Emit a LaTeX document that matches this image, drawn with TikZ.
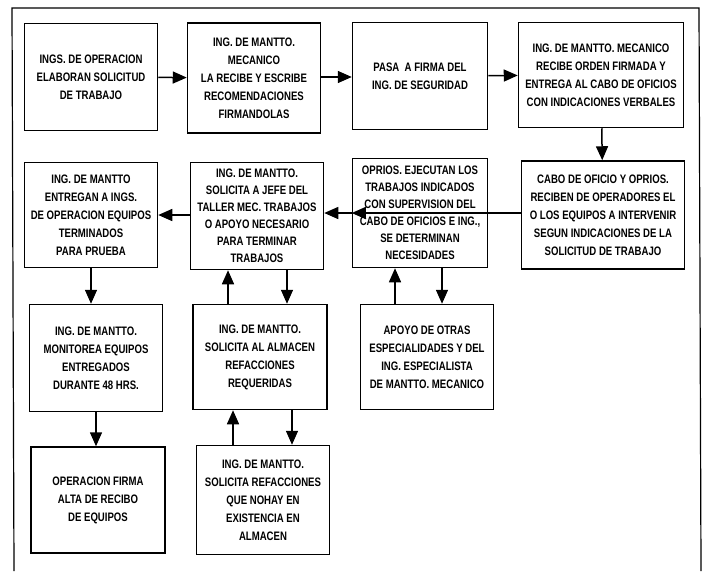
\documentclass[tikz,border=0pt]{standalone}
\usepackage{fontspec}
\setmainfont{Liberation Sans}[FakeStretch=0.78]
\usepackage{tikz}
\usetikzlibrary{arrows.meta}

\begin{document}
\begin{tikzpicture}
            [x=1pt,y=-1pt,
             box/.style={draw,line width=1.5pt,minimum width=133pt,minimum height=107pt,
                         align=center,inner sep=1pt,font=\bfseries\fontsize{12.3}{18}\selectfont},
             tight/.style={font=\bfseries\fontsize{12.3}{17}\selectfont},
             arr/.style={line width=1.5pt,-{Triangle[length=14pt,width=12pt]}}]
            \useasboundingbox (0,0) rectangle (708,571);
            \draw[line width=1.2pt] (14,571) -- (12,8) -- (699,8) -- (701,571);

            \node[box] (S1) at (91,77) {INGS. DE OPERACION\\ELABORAN SOLICITUD\\DE TRABAJO};
            \node[box,minimum height=110pt] (S2) at (254,78) {ING. DE MANTTO.\\MECANICO\\LA RECIBE Y ESCRIBE\\RECOMENDACIONES\\FIRMANDOLAS};
            \node[box,minimum width=135pt] (S3) at (420,76) {PASA \ A FIRMA DEL\\ING. DE SEGURIDAD};
            \node[box,minimum width=165pt,minimum height=105pt] (S4) at (601,75) {ING. DE MANTTO. MECANICO\\RECIBE ORDEN FIRMADA Y\\ENTREGA AL CABO DE OFICIOS\\CON INDICACIONES VERBALES};

            \node[box,minimum width=163pt,minimum height=108pt] (S5) at (603,215) {CABO DE OFICIO Y OPRIOS.\\RECIBEN DE OPERADORES EL\\O LOS EQUIPOS A INTERVENIR\\SEGUN INDICACIONES DE LA\\SOLICITUD DE TRABAJO};
            \node[box,tight,minimum width=135pt,minimum height=109pt] (S6) at (420,213) {OPRIOS. EJECUTAN LOS\\TRABAJOS INDICADOS\\CON SUPERVISION DEL\\CABO DE OFICIOS E ING.,\\SE DETERMINAN\\NECESIDADES};
            \node[box,tight] (S7) at (257,216) {ING. DE MANTTO.\\SOLICITA A JEFE DEL\\TALLER MEC. TRABAJOS\\O APOYO NECESARIO\\PARA TERMINAR\\TRABAJOS};
            \node[box,minimum height=105pt] (S8) at (91,215) {ING. DE MANTTO\\ENTREGAN A INGS.\\DE OPERACION EQUIPOS\\TERMINADOS\\PARA PRUEBA};

            \node[box] (S9) at (96,358) {ING. DE MANTTO.\\MONITOREA EQUIPOS\\ENTREGADOS\\DURANTE 48 HRS.};
            \node[box,minimum width=134pt,minimum height=105pt] (S10) at (260,357) {ING. DE MANTTO.\\SOLICITA AL ALMACEN\\REFACCIONES\\REQUERIDAS};
            \node[box,minimum height=105pt] (S11) at (427,357) {APOYO DE OTRAS\\ESPECIALIDADES Y DEL\\ING. ESPECIALISTA\\DE MANTTO. MECANICO};

            \node[box,minimum width=134pt,minimum height=106pt] (S12) at (98,500) {OPERACION FIRMA\\ALTA DE RECIBO\\DE EQUIPOS};
            \node[box,minimum height=109pt] (S13) at (263,500) {ING. DE MANTTO.\\SOLICITA REFACCIONES\\QUE NOHAY EN\\EXISTENCIA EN\\ALMACEN};

            \coordinate (U1) at ([xshift=-29pt]S7.south);
            \coordinate (D1) at ([xshift=30pt]S7.south);
            \coordinate (U2) at ([xshift=-25pt]S6.south);
            \coordinate (D2) at ([xshift=22pt]S6.south);
            \coordinate (U3) at ([xshift=-27pt]S10.south);
            \coordinate (D3) at ([xshift=32pt]S10.south);

            \draw[arr] (S1) -- (S2);
            \draw[arr] (S2.east |- S1.east) -- (S3.west |- S1.east);
            \draw[arr] (S3) -- (S4);
            \draw[arr] (S4) -- (S5);
            \draw[arr] (S5.west |- S6.west) -- (S6.west);
            \draw[arr] (S6.west) -- (S7.east |- S6.west);
            \draw[arr] (S7.west |- S8.west) -- (S8.east |- S8.west);
            \draw[arr] (S8.south) -- (S8.south |- S9.north);
            \draw[arr] (S9.south) -- (S9.south |- S12.north);
            \draw[arr] (U1 |- S10.north) -- (U1);
            \draw[arr] (D1) -- (D1 |- S10.north);
            \draw[arr] (U2 |- S11.north) -- (U2);
            \draw[arr] (D2) -- (D2 |- S11.north);
            \draw[arr] (U3 |- S13.north) -- (U3);
            \draw[arr] (D3) -- (D3 |- S13.north);
        \end{tikzpicture}
\end{document}
